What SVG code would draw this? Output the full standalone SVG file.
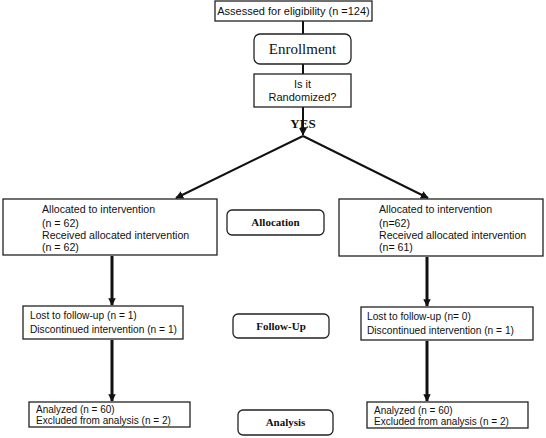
<svg xmlns="http://www.w3.org/2000/svg" width="546" height="438" viewBox="0 0 546 438">
<style>
.box{fill:#fff;stroke:#222;stroke-width:1.3}
.t{font-family:"Liberation Sans",Arial,sans-serif;font-size:11px;fill:#111}
.f{font-size:10.2px}
.a{font-size:10.6px}
.z{font-size:10px}
.s{font-family:"Liberation Serif","Times New Roman",serif;font-weight:bold;font-size:11px;fill:#111;text-anchor:middle}
.c{stroke:#111;fill:none}
</style>
<defs>
<marker id="ah" viewBox="0 0 10 10" refX="9" refY="5" markerWidth="4" markerHeight="4" orient="auto" markerUnits="strokeWidth">
<path d="M0,0 L10,5 L0,10 z" fill="#111"/>
</marker>
<marker id="ah2" viewBox="0 0 10 10" refX="9" refY="5" markerWidth="2.5" markerHeight="2.5" orient="auto" markerUnits="strokeWidth">
<path d="M0,0 L10,5 L0,10 z" fill="#111"/>
</marker>
</defs>
<rect width="546" height="438" fill="#fff"/>
<g id="connectors">
<line class="c" x1="303" y1="21" x2="303" y2="34" stroke-width="2"/>
<line class="c" x1="303" y1="64" x2="303" y2="74" stroke-width="2"/>
<line class="c" x1="303" y1="107" x2="303" y2="135" stroke-width="2" marker-end="url(#ah)"/>
<line class="c" x1="303" y1="136" x2="176" y2="198" stroke-width="2" marker-end="url(#ah)"/>
<line class="c" x1="303" y1="136" x2="428" y2="198" stroke-width="2" marker-end="url(#ah)"/>
<line class="c" x1="112" y1="256" x2="112" y2="305" stroke-width="3" marker-end="url(#ah2)"/>
<line class="c" x1="427" y1="257" x2="427" y2="306" stroke-width="3" marker-end="url(#ah2)"/>
<line class="c" x1="112" y1="340" x2="112" y2="401" stroke-width="3" marker-end="url(#ah2)"/>
<line class="c" x1="427" y1="341" x2="427" y2="401" stroke-width="3" marker-end="url(#ah2)"/>
</g>
<g id="assessed">
<rect class="box" x="215" y="1" width="157" height="20"/>
<text class="t" x="293.5" y="15" text-anchor="middle">Assessed for eligibility (n =124)</text>
</g>
<g id="enrollment">
<rect class="box" x="254" y="34" width="97" height="30" rx="6"/>
<text x="302.5" y="54" text-anchor="middle" style="font-family:'Liberation Serif','Times New Roman',serif;font-size:15px;fill:#111">Enrollment</text>
</g>
<g id="randomized">
<rect class="box" x="254" y="74" width="97" height="33"/>
<text class="t" x="302.5" y="88" text-anchor="middle">Is it</text>
<text class="t" x="302.5" y="101" text-anchor="middle">Randomized?</text>
</g>
<g id="yes">
<text x="303" y="128" text-anchor="middle" style="font-family:'Liberation Serif','Times New Roman',serif;font-weight:bold;font-size:13px;fill:#111">YES</text>
</g>
<g id="alloc-left">
<rect class="box" x="3" y="199" width="214" height="56"/>
<text class="t a" x="42" y="213">Allocated to intervention</text>
<text class="t a" x="42" y="227">(n = 62)</text>
<text class="t a" x="42" y="239">Received allocated intervention</text>
<text class="t a" x="42" y="251">(n = 62)</text>
</g>
<g id="alloc-right">
<rect class="box" x="339" y="199" width="204" height="57"/>
<text class="t a" x="379" y="213">Allocated to intervention</text>
<text class="t a" x="379" y="227">(n=62)</text>
<text class="t a" x="379" y="239">Received allocated intervention</text>
<text class="t a" x="379" y="251">(n= 61)</text>
</g>
<g id="allocation">
<rect class="box" x="227" y="210" width="97" height="25" rx="5"/>
<text class="s" x="275.5" y="226">Allocation</text>
</g>
<g id="follow-left">
<rect class="box" x="23" y="306" width="160" height="33"/>
<text class="t f" x="30" y="319">Lost to follow-up (n = 1)</text>
<text class="t f" x="30" y="333">Discontinued intervention (n = 1)</text>
</g>
<g id="follow-right">
<rect class="box" x="361" y="307" width="172" height="33"/>
<text class="t f" x="367" y="320">Lost to follow-up (n= 0)</text>
<text class="t f" x="367" y="334">Discontinued intervention (n = 1)</text>
</g>
<g id="followup">
<rect class="box" x="233" y="314" width="96" height="24" rx="5"/>
<text class="s" x="281" y="330">Follow-Up</text>
</g>
<g id="analysis-left">
<rect class="box" x="29" y="402" width="161" height="25"/>
<text class="t z" x="36" y="413">Analyzed (n = 60)</text>
<text class="t z" x="36" y="424">Excluded from analysis (n = 2)</text>
</g>
<g id="analysis-right">
<rect class="box" x="367" y="402" width="161" height="26"/>
<text class="t z" x="374" y="414">Analyzed (n = 60)</text>
<text class="t z" x="374" y="425">Excluded from analysis (n = 2)</text>
</g>
<g id="analysis">
<rect class="box" x="238" y="410" width="95" height="25" rx="5"/>
<text class="s" x="285.5" y="426">Analysis</text>
</g>
</svg>
